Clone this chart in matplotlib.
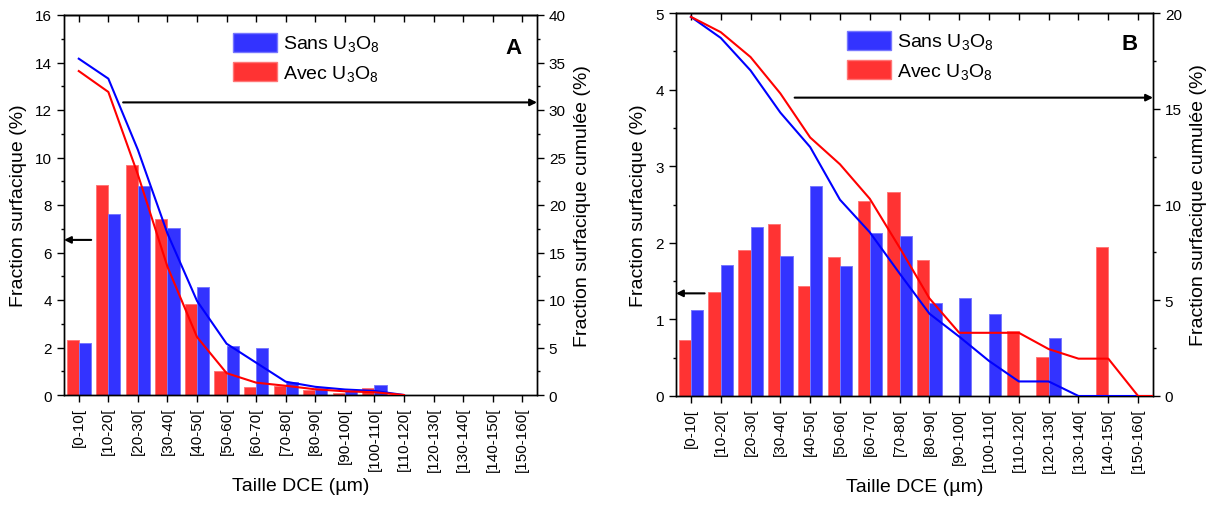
import numpy as np
import matplotlib

matplotlib.use("Agg")
import matplotlib.pyplot as plt
from matplotlib.patches import Patch
from matplotlib.ticker import MultipleLocator

plt.rcParams["font.family"] = ["Liberation Sans", "DejaVu Sans"]
plt.rcParams["mathtext.fontset"] = "custom"
plt.rcParams["mathtext.rm"] = "Liberation Sans"

classes = [
    "[0-10[", "[10-20[", "[20-30[", "[30-40[", "[40-50[", "[50-60[", "[60-70[", "[70-80[",
    "[80-90[", "[90-100[", "[100-110[", "[110-120[", "[120-130[", "[130-140[", "[140-150[", "[150-160[",
]

# panel A : fraction surfacique (%) par classe
a_sans = [2.19, 7.62, 8.80, 7.03, 4.53, 2.05, 1.98, 0.56, 0.28, 0.15, 0.43, 0, 0, 0, 0, 0]
a_avec = [2.32, 8.85, 9.70, 7.41, 3.85, 1.00, 0.32, 0.37, 0.21, 0.10, 0.29, 0, 0, 0, 0, 0]
# panel A : fraction cumulee (%)
a_cum_sans = [35.4, 33.3, 25.8, 17.0, 9.9, 5.4, 3.4, 1.4, 0.86, 0.58, 0.43, 0.0]
a_cum_avec = [34.1, 31.9, 23.2, 13.5, 6.1, 2.3, 1.3, 0.97, 0.60, 0.39, 0.29, 0.0]

# panel B
b_sans = [1.12, 1.71, 2.21, 1.83, 2.74, 1.70, 2.13, 2.09, 1.22, 1.28, 1.07, 0, 0.76, 0, 0, 0]
b_avec = [0.73, 1.36, 1.91, 2.25, 1.44, 1.81, 2.54, 2.66, 1.78, 0, 0, 0.85, 0.51, 0, 1.95, 0]
b_cum_sans = [19.8, 18.7, 17.0, 14.8, 13.0, 10.25, 8.55, 6.4, 4.3, 3.1, 1.83, 0.76, 0.76, 0, 0, 0, 0]
b_cum_avec = [19.8, 19.0, 17.7, 15.8, 13.5, 12.1, 10.3, 7.75, 5.1, 3.3, 3.3, 3.3, 2.45, 1.95, 1.95, 0, 0]

RED = "#ff3333"
BLUE = "#3333ff"
W = 0.41


def panel(rect, sans, avec, cum_sans, cum_avec, ylim, yticks, ymin, y2lim, letter,
          arr_left, arr_right, leg_xy, letter_xy):
    ax = fig.add_axes(rect)
    x = np.arange(len(classes))
    ax.bar(x - W / 2, avec, W, color=RED, edgecolor="#ff7777", lw=0.7, zorder=2)
    ax.bar(x + W / 2, sans, W, color=BLUE, edgecolor="#7777ff", lw=0.7, zorder=2)
    ax.set_xlim(-0.5, 15.5)
    ax.set_ylim(*ylim)
    ax.set_yticks(yticks)
    ax.yaxis.set_minor_locator(MultipleLocator(ymin))
    ax.set_xticks(x)
    ax.set_xticklabels(classes, rotation=90, fontsize=11)
    ax.tick_params(axis="both", which="major", direction="out", length=5, width=1, labelsize=11)
    ax.tick_params(axis="y", which="minor", direction="out", length=2.5, width=1)
    ax.set_xlabel("Taille DCE (µm)", fontsize=14)
    ax.set_ylabel("Fraction surfacique (%)", fontsize=14, labelpad=6)
    top = ax.secondary_xaxis("top")
    top.set_xticks(x)
    top.tick_params(direction="in", length=5, width=1, labeltop=False)

    ax2 = ax.twinx()
    ax2.plot(np.arange(len(cum_sans)), cum_sans, color="#0000ff", lw=1.5, zorder=3)
    ax2.plot(np.arange(len(cum_avec)), cum_avec, color="#ff0000", lw=1.5, zorder=3)
    ax2.set_ylim(*y2lim)
    ax2.yaxis.set_major_locator(MultipleLocator(5))
    ax2.yaxis.set_minor_locator(MultipleLocator(2.5))
    ax2.tick_params(axis="y", which="major", direction="out", length=5, width=1, labelsize=11)
    ax2.tick_params(axis="y", which="minor", direction="out", length=2.5, width=1)
    ax2.set_ylabel("Fraction surfacique cumulée (%)", fontsize=14, labelpad=6)
    ax2.set_xlim(-0.5, 15.5)

    for a in (ax, ax2, top):
        for s in a.spines.values():
            s.set_linewidth(1.0)

    arrow = dict(arrowstyle="-|>", color="k", lw=1.5, mutation_scale=10, shrinkA=0, shrinkB=0)
    ax.annotate("", xy=(-0.5, arr_left[0]), xytext=(arr_left[1], arr_left[0]),
                arrowprops=arrow, annotation_clip=False)
    ax2.annotate("", xy=(15.5, arr_right[0]), xytext=(arr_right[1], arr_right[0]),
                 arrowprops=arrow, annotation_clip=False)

    handles = [
        Patch(facecolor=BLUE, edgecolor="#7777ff", label="Sans U$_\\mathregular{3}$O$_\\mathregular{8}$"),
        Patch(facecolor=RED, edgecolor="#ff7777", label="Avec U$_\\mathregular{3}$O$_\\mathregular{8}$"),
    ]
    ax2.legend(handles=handles, loc="upper left", bbox_to_anchor=leg_xy,
               bbox_transform=fig.transFigure, frameon=False, fontsize=14,
               handlelength=2.27, handleheight=1.13, handletextpad=0.3,
               labelspacing=0.41, borderpad=0, borderaxespad=0)
    fig.text(letter_xy[0], letter_xy[1], letter, fontsize=16, fontweight="bold",
             ha="center", va="center")
    return ax, ax2


fig = plt.figure(figsize=(12.14, 5.06), dpi=100)
H = 506.0
FW = 1214.0

panel([64 / FW, 1 - 396 / H, (537 - 64) / FW, (396 - 16) / H],
      a_sans, a_avec, a_cum_sans, a_cum_avec,
      (0, 16), np.arange(0, 17, 2), 1, (0, 40), "A",
      (6.53, 0.42), (30.8, 1.5), (233 / FW, 1 - 34 / H), (513 / FW, 1 - 49 / H))

panel([676 / FW, 1 - 397 / H, (1153 - 676) / FW, (397 - 14) / H],
      b_sans, b_avec, b_cum_sans, b_cum_avec,
      (0, 5), np.arange(0, 6, 1), 0.5, (0, 20), "B",
      (1.34, 0.46), (15.58, 3.48), (847 / FW, 1 - 32 / H), (1130 / FW, 1 - 45 / H))

fig.savefig("out.png", dpi=100)
